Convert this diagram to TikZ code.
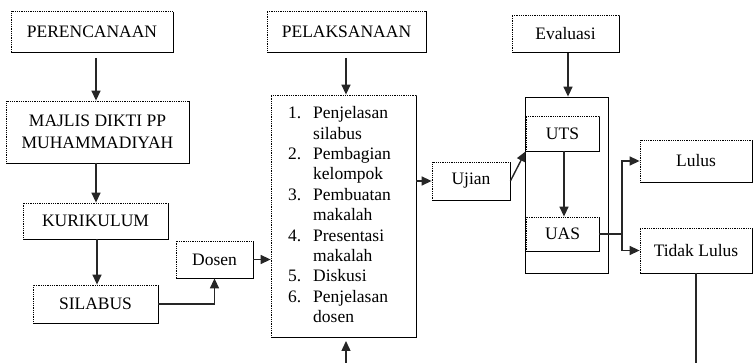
\documentclass[tikz,border=0pt]{standalone}
\usepackage{fontspec}
\setmainfont{Liberation Serif}
\usetikzlibrary{arrows.meta,shadows}
\begin{document}
\begin{tikzpicture}[x=1pt,y=-1pt,
  font=\fontsize{17.5}{20.4}\selectfont,
  dbox/.style={draw=black, densely dotted, line width=0.8pt, fill=white, inner sep=0pt,
    drop shadow={shadow xshift=1.4pt, shadow yshift=-1.4pt, opacity=1, fill=black}},
  pbox/.style={draw=black, line width=0.8pt, inner sep=0pt},
  arr/.style={draw=black!85, line width=1.4pt, -{Triangle[length=10pt,width=9pt]}},
  ln/.style={draw=black!85, line width=1.4pt}]
\useasboundingbox (0,0) rectangle (753,363);
% left column
\node[dbox, minimum width=162pt, minimum height=41pt] (per) at (92,31.5) {PERENCANAAN};
\node[dbox, minimum width=183pt, minimum height=62pt, align=center] (maj) at (97.5,132) {MAJLIS DIKTI PP\\[1.6pt]MUHAMMADIYAH};
\node[dbox, minimum width=145pt, minimum height=36pt] (kur) at (95.5,221) {KURIKULUM};
\node[dbox, minimum width=125pt, minimum height=38pt] (sil) at (95.5,304) {SILABUS};
\node[dbox, minimum width=77pt, minimum height=37pt] (dos) at (214.5,259.5) {Dosen};
% middle column
\node[dbox, minimum width=159pt, minimum height=41pt] (pel) at (346.5,31.5) {PELAKSANAAN};
\node[dbox, minimum width=145pt, minimum height=242pt] (big) at (343.5,216) {};
\node[anchor=north west, inner sep=0pt] (lst) at (288,104.2) {%
  \begin{tabular}{@{}p{25pt}@{}l@{}}
  1. & Penjelasan\\
     & silabus\\
  2. & Pembagian\\
     & kelompok\\
  3. & Pembuatan\\
     & makalah\\
  4. & Presentasi\\
     & makalah\\
  5. & Diskusi\\
  6. & Penjelasan\\
     & dosen
  \end{tabular}};
\node[dbox, minimum width=78pt, minimum height=38pt] (uji) at (471,181) {Ujian};
% right column
\node[dbox, minimum width=107pt, minimum height=37pt] (eva) at (565.5,33.5) {Evaluasi};
\node[pbox, minimum width=83pt, minimum height=176pt] (cont) at (566.5,185) {};
\node[dbox, minimum width=73pt, minimum height=35pt] (uts) at (562.5,133.5) {UTS};
\node[dbox, minimum width=73pt, minimum height=34pt] (uas) at (562.5,234) {UAS};
\node[dbox, minimum width=112pt, minimum height=42pt] (lul) at (696,161) {Lulus};
\node[dbox, minimum width=112pt, minimum height=45pt] (tdk) at (696,250.5) {Tidak Lulus};
% connectors
\coordinate (c1) at (96,58);
\draw[arr] (c1) -- (c1 |- maj.north);
\coordinate (c2) at (96,163);
\draw[arr] (c2) -- (c2 |- kur.north);
\coordinate (c3) at (97,239);
\draw[arr] (c3) -- (c3 |- sil.north);
\draw[arr] (sil.east) -| (dos.south);
\draw[arr] (dos.east) -- (dos.east -| big.west);
\coordinate (c4) at (346,58);
\draw[arr] (c4) -- (c4 |- big.north);
\coordinate (bot) at (346,363);
\coordinate (botend) at (346,341);
\draw[arr] (bot) -- (botend);
\draw[arr] (big.east |- uji.west) -- (uji.west);
\draw[arr] (uji.east) -- (uts.south west);
\coordinate (c5) at (568,53);
\draw[arr] (c5) -- (c5 |- cont.north);
\coordinate (c6) at (564,151);
\draw[arr] (c6) -- (c6 |- uas.north);
\coordinate (br) at (622,234);
\draw[ln] (uas.east) -- (br);
\draw[arr] (br) |- (lul.west);
\draw[arr] (br) |- (tdk.west);
\coordinate (tend) at (696,363);
\draw[ln] (tdk.south) -- (tend);
\end{tikzpicture}
\end{document}
